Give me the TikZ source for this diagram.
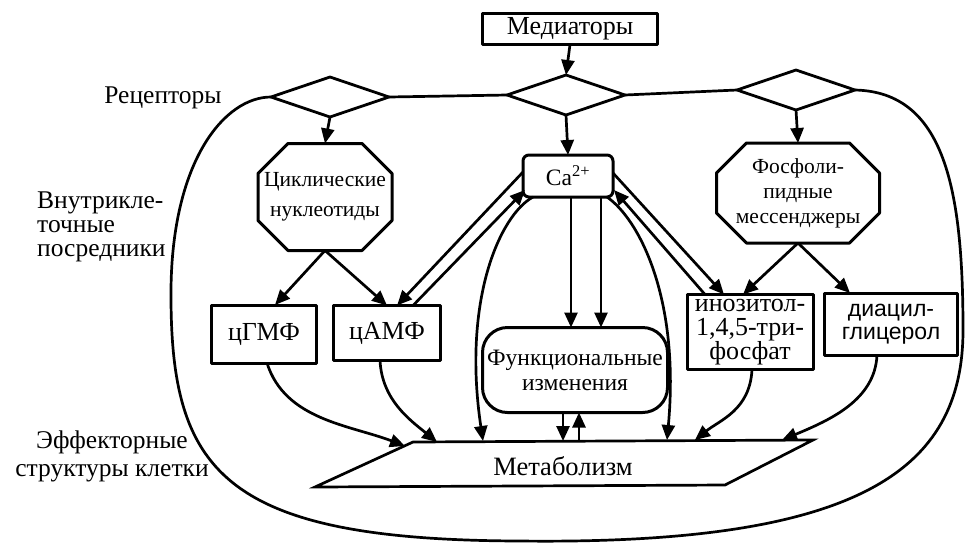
\documentclass[tikz,border=0pt]{standalone}
\usepackage{fontspec}
\setmainfont{Liberation Serif}
\newfontfamily\diafont{Liberation Sans}
\usetikzlibrary{calc,arrows.meta,shapes.geometric}
\tikzset{
  wire/.style    = {line width=2.7pt, -{Triangle[length=15pt,width=13pt]}},
  plain/.style   = {line width=2.7pt},
  box/.style     = {draw, line width=3pt, inner sep=0pt, outer sep=0pt, align=center,
                    font=\fontsize{26}{24}\selectfont},
  midtxt/.style  = {font=\fontsize{23.5}{25}\selectfont},
  octnode/.style = {inner sep=0pt, outer sep=0pt, align=center,
                    font=\fontsize{21.5}{25}\selectfont},
  rcpt/.style    = {draw, diamond, line width=2.8pt, minimum width=118pt,
                    minimum height=40pt, inner sep=0pt, outer sep=0pt},
  side/.style    = {font=\fontsize{25.5}{24}\selectfont, inner sep=0pt},
}

\begin{document}
\begin{tikzpicture}[x=1pt, y=-1pt, line join=round]
\useasboundingbox (0,0) rectangle (968,542);

% chamfer of the octagons
\def\chf{30}

% --- top: mediators and receptors ---
\node[box, minimum width=175, minimum height=31] (med) at (570,29) {Медиаторы};
\node[rcpt] (dL) at (330,97) {};
\node[rcpt] (dC) at (566,95) {};
\node[rcpt] (dR) at (796,90) {};

\draw[plain] (dL.east) -- (dC.west);
\draw[plain] (dC.east) -- (dR.west);

% cell outline
\draw[plain] (dL.west) .. controls (225,97) and (172,160) .. (171,290)
  .. controls (170,470) and (220,540) .. (520,541)
  .. controls (860,545) and (963,470) .. (963,330)
  .. controls (963,190) and (945,92) .. (dR.east);

% --- second messengers ---
\node[octnode, minimum width=134, minimum height=107] (cyc) at (325,197)
  {\raisebox{-5pt}{Циклические}\\[5pt]\raisebox{-5pt}{нуклеотиды}};
\node[box, midtxt, rounded corners=6, minimum width=90, minimum height=42] (ca) at (568,176)
  {Ca\textsuperscript{2+}};
\node[octnode, minimum width=163, minimum height=100] (fos) at (798,193)
  {Фосфоли-\\пидные\\мессенджеры};

\foreach \oct in {cyc,fos}
  \draw[line width=3pt]
    ($(\oct.north west)+(\chf,0)$) -- ($(\oct.north east)+(-\chf,0)$)
    -- ($(\oct.north east)+(0,\chf)$) -- ($(\oct.south east)+(0,-\chf)$)
    -- ($(\oct.south east)+(-\chf,0)$) -- ($(\oct.south west)+(\chf,0)$)
    -- ($(\oct.south west)+(0,-\chf)$) -- ($(\oct.north west)+(0,\chf)$) -- cycle;

\node[box, minimum width=105, minimum height=58] (gmp) at (264,334) {цГМФ};
\node[box, minimum width=107, minimum height=55] (amp) at (387,333) {цАМФ};
\node[box, midtxt, rounded corners=25, minimum width=185, minimum height=85] (func) at (575,370)
  {Функциональные\\изменения};
\node[box, minimum width=126, minimum height=75] (ino) at (750,332)
  {инозитол-\\1,4,5-три-\\фосфат};
\node[box, minimum width=133, minimum height=62,
      font=\diafont\fontsize{23}{23}\selectfont] (dia) at (891,324)
  {диацил-\\глицерол};

% --- metabolism ---
\coordinate (mTL) at (413,442);
\coordinate (mTR) at (813,440);
\coordinate (mBR) at (725,485);
\coordinate (mBL) at (315,487);
\draw[plain, line join=miter] (mTL) -- (mTR) -- (mBR) -- (mBL) -- cycle;
\node[side, font=\fontsize{26.5}{24}\selectfont] (met) at (563,466) {Метаболизм};

\coordinate (m1) at (405,446);
\coordinate (m2) at (437,442);
\coordinate (m3) at (483,441);
\coordinate (m4) at (563,441);
\coordinate (m5) at (579,441);
\coordinate (m6) at (667,440);
\coordinate (m7) at (695,440);
\coordinate (m8) at (782,440);

% --- side labels ---
\node[side] (rec) at (163,98) {Рецепторы};
\node[side, anchor=north west, align=left] (vnut) at (37,192)
  {Внутрикле-\\точные\\посредники};
\node[side, align=center, font=\fontsize{25.5}{28}\selectfont] (eff) at (112,456)
  {Эффекторные\\структуры клетки};

% --- arrows, top down ---
\draw[wire] (med.south) -- (dC.north);
\draw[wire] (dL.south) -- (cyc.north);
\draw[wire] (dC.south) -- (ca.north);
\draw[wire] (dR.south) -- (fos.north);

\draw[wire] (cyc.south) -- ($(gmp.north)+(11,0)$);
\draw[wire] (cyc.south) -- (amp.north);
\draw[wire] (fos.south) -- ($(ino.north)+(-7,0)$);
\draw[wire] (fos.south) -- ($(dia.north)+(-41,0)$);

% Ca2+ both ways
\draw[wire] ($(ca.west)+(0,-4)$) -- ($(amp.north)+(10,0)$);
\draw[wire] ($(amp.north)+(26,0)$) -- ($(ca.south west)+(2,-7)$);
\draw[wire] ($(ca.east)+(0,-3)$) -- ($(ino.north west)+(37,0)$);
\draw[wire] ($(ino.north west)+(18,0)$) -- ($(ca.south east)+(1,-7)$);

\draw[wire] ($(ca.south)+(3,0)$) -- ($(func.north)+(-4,0)$);
\draw[wire] ($(ca.south)+(33,0)$) -- ($(func.north)+(26,0)$);

% into metabolism
\draw[wire] ($(gmp.south)+(3,0)$) .. controls (285,420) and (350,425) .. (m1);
\draw[wire] ($(amp.south)+(-7,0)$) .. controls (382,400) and (410,420) .. (m2);
\draw[wire] ($(ca.south west)+(10,0)$) .. controls (500,215) and (462,300) .. (m3);
\draw[wire] ($(func.south)+(-12,0)$) -- (m4);
\draw[wire] (m5) -- ($(func.south)+(4,0)$);
\draw[wire] ($(ca.south east)+(-6,0)$) .. controls (640,220) and (680,300) .. (m6);
\draw[wire] ($(ino.south)+(2,0)$) .. controls (750,410) and (720,420) .. (m7);
\draw[wire] ($(dia.south)+(-14,0)$) .. controls (875,400) and (830,420) .. (m8);

\end{tikzpicture}
\end{document}
